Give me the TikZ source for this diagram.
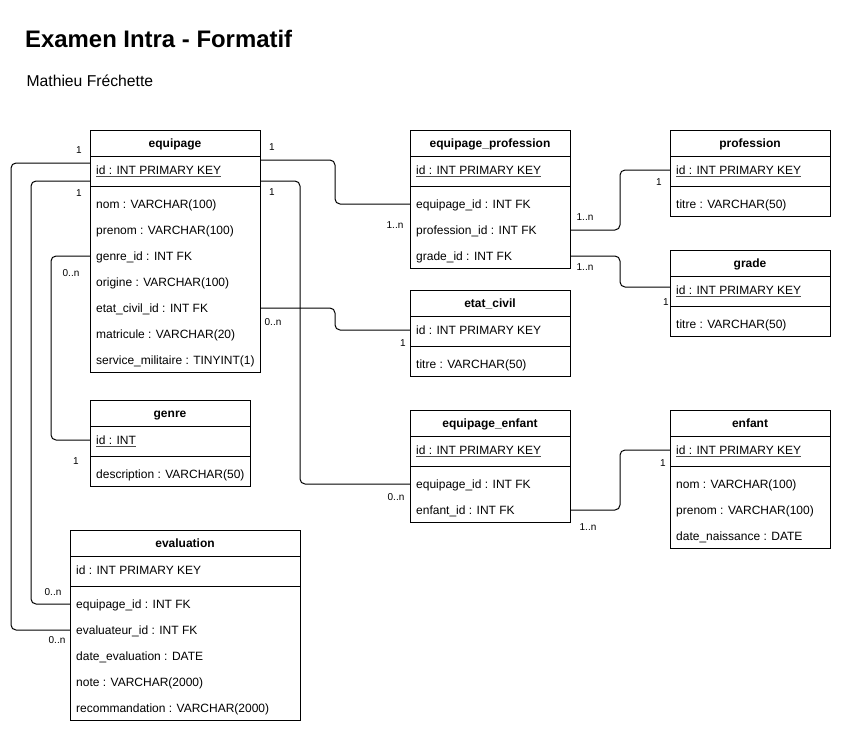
\documentclass[tikz,border=0pt]{standalone}
\usepackage{fontspec}
\setmainfont{Liberation Sans}
\usetikzlibrary{calc}
\newcommand\pk[1]{\leavevmode\setbox0\hbox{#1}\rlap{\color{black!70}\rule[-2.9pt]{\wd0}{1pt}}\box0}
\newcommand\ertable[6]{%
  \node[tbl, minimum width=#4pt, minimum height=#5pt] (#1) at (#2,#3) {};
  \node[ttl] (#1-title) at ($(#1.north)+(0,13)$) {#6};
  \draw[rowline] ($(#1.north west)+(0,26)$) -- ($(#1.north east)+(0,26)$);
  \draw[rowline] ($(#1.north west)+(0,56)$) -- ($(#1.north east)+(0,56)$);}
\newcommand\erfield[4]{\node[fld] (#1) at ($(#2.north west)+(6,#3)$) {#4};}
\tikzset{
  tbl/.style={draw, line width=1pt, anchor=north west, inner sep=0pt, outer sep=0pt, fill=white},
  rowline/.style={line width=1pt},
  ttl/.style={font=\bfseries\fontsize{12}{14}\selectfont, inner sep=0pt, text height=8.6pt, text depth=0pt},
  fld/.style={font=\fontsize{12}{14}\selectfont, inner sep=0pt, anchor=west, text height=8.6pt, text depth=0pt},
  card/.style={font=\fontsize{10}{12}\selectfont, inner sep=0pt, text height=7.2pt, text depth=0pt},
  conn/.style={line width=1pt, rounded corners=5pt},
}
\begin{document}
\begin{tikzpicture}[x=1pt,y=-1pt]
\fill[white] (0,0) rectangle (842,734);
\useasboundingbox (0,0) rectangle (842,734);

\node[anchor=base west, inner sep=0pt, font=\bfseries\fontsize{23.9}{28}\selectfont] (title) at (25,47.3) {Examen Intra - Formatif};
\node[anchor=base west, inner sep=0pt, font=\fontsize{15.7}{18}\selectfont] (author) at (26.4,86) {Mathieu Fréchette};

% tables
\ertable{equipage}{90}{130}{170}{242}{equipage}
\erfield{eq-id}{equipage}{40}{\pk{id : INT PRIMARY KEY}}
\erfield{eq-nom}{equipage}{74}{nom : VARCHAR(100)}
\erfield{eq-prenom}{equipage}{100}{prenom : VARCHAR(100)}
\erfield{eq-genre}{equipage}{126}{genre\_id : INT FK}
\erfield{eq-origine}{equipage}{152}{origine : VARCHAR(100)}
\erfield{eq-etat}{equipage}{178}{etat\_civil\_id : INT FK}
\erfield{eq-matricule}{equipage}{204}{matricule : VARCHAR(20)}
\erfield{eq-service}{equipage}{230}{service\_militaire : TINYINT(1)}

\ertable{eprof}{410}{130}{160}{138}{equipage\_profession}
\erfield{ep-id}{eprof}{40}{\pk{id : INT PRIMARY KEY}}
\erfield{ep-equipage}{eprof}{74}{equipage\_id : INT FK}
\erfield{ep-profession}{eprof}{100}{profession\_id : INT FK}
\erfield{ep-grade}{eprof}{126}{grade\_id : INT FK}

\ertable{profession}{670}{130}{160}{86}{profession}
\erfield{pr-id}{profession}{40}{\pk{id : INT PRIMARY KEY}}
\erfield{pr-titre}{profession}{74}{titre : VARCHAR(50)}

\ertable{grade}{670}{250}{160}{86}{grade}
\erfield{gr-id}{grade}{40}{\pk{id : INT PRIMARY KEY}}
\erfield{gr-titre}{grade}{74}{titre : VARCHAR(50)}

\ertable{ecivil}{410}{290}{160}{86}{etat\_civil}
\erfield{ec-id}{ecivil}{40}{id : INT PRIMARY KEY}
\erfield{ec-titre}{ecivil}{74}{titre : VARCHAR(50)}

\ertable{genre}{90}{400}{160}{86}{genre}
\erfield{ge-id}{genre}{40}{\pk{id : INT}}
\erfield{ge-desc}{genre}{74}{description : VARCHAR(50)}

\ertable{eenf}{410}{410}{160}{112}{equipage\_enfant}
\erfield{ee-id}{eenf}{40}{\pk{id : INT PRIMARY KEY}}
\erfield{ee-equipage}{eenf}{74}{equipage\_id : INT FK}
\erfield{ee-enfant}{eenf}{100}{enfant\_id : INT FK}

\ertable{enfant}{670}{410}{160}{138}{enfant}
\erfield{en-id}{enfant}{40}{\pk{id : INT PRIMARY KEY}}
\erfield{en-nom}{enfant}{74}{nom : VARCHAR(100)}
\erfield{en-prenom}{enfant}{100}{prenom : VARCHAR(100)}
\erfield{en-date}{enfant}{126}{date\_naissance : DATE}

\ertable{evaluation}{70}{530}{230}{190}{evaluation}
\erfield{ev-id}{evaluation}{40}{id : INT PRIMARY KEY}
\erfield{ev-equipage}{evaluation}{74}{equipage\_id : INT FK}
\erfield{ev-evaluateur}{evaluation}{100}{evaluateur\_id : INT FK}
\erfield{ev-date}{evaluation}{126}{date\_evaluation : DATE}
\erfield{ev-note}{evaluation}{152}{note : VARCHAR(2000)}
\erfield{ev-recom}{evaluation}{178}{recommandation : VARCHAR(2000)}

% connectors
\draw[conn] ($(equipage.north west)+(0,33)$) -- ++(-79,0) |- (evaluation.west |- ev-evaluateur);
\draw[conn] ($(equipage.north west)+(0,51)$) -- ++(-59,0) |- (evaluation.west |- ev-equipage);
\draw[conn] (equipage.west |- eq-genre) -- ++(-39,0) |- (genre.west |- ge-id);
\draw[conn] ($(equipage.north east)+(0,30)$) -- ++(75,0) |- (eprof.west |- ep-equipage);
\draw[conn] ($(equipage.north east)+(0,51)$) -- ++(40,0) |- (eenf.west |- ee-equipage);
\draw[conn] (equipage.east |- eq-etat) -- ++(75,0) |- (ecivil.west |- ec-id);
\draw[conn] (eprof.east |- ep-profession) -- ++(50,0) |- (profession.west |- pr-id);
\draw[conn] (eprof.east |- ep-grade) -- ++(50,0) |- ($(grade.north west)+(0,37)$);
\draw[conn] (eenf.east |- ee-enfant) -- ++(50,0) |- (enfant.west |- en-id);

% cardinalities
\node[card] (c1) at (79,150) {1};
\node[card] (c2) at (79,193) {1};
\node[card] (c3) at (71,273) {0..n};
\node[card] (c4) at (76,461) {1};
\node[card] (c5) at (53,592) {0..n};
\node[card] (c6) at (57,640) {0..n};
\node[card] (c7) at (272,147) {1};
\node[card] (c8) at (272,192) {1};
\node[card] (c9) at (273,322) {0..n};
\node[card] (c10) at (395,225) {1..n};
\node[card] (c11) at (403,343) {1};
\node[card] (c12) at (585,217) {1..n};
\node[card] (c13) at (659,182) {1};
\node[card] (c14) at (585,267) {1..n};
\node[card] (c15) at (666,302) {1};
\node[card] (c16) at (396,497) {0..n};
\node[card] (c17) at (588,527) {1..n};
\node[card] (c18) at (663,463) {1};
\end{tikzpicture}
\end{document}
